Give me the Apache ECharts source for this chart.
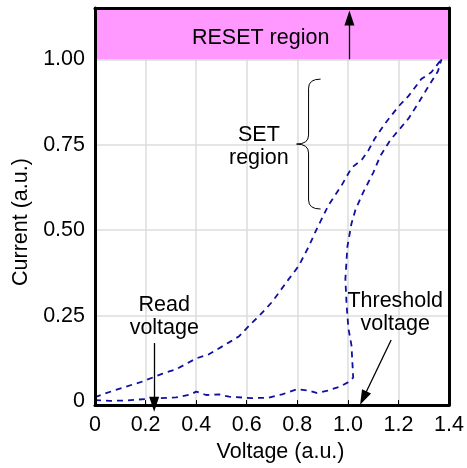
<!DOCTYPE html>
<html><head><meta charset="utf-8">
<script src="https://cdn.jsdelivr.net/npm/echarts@6/dist/echarts.min.js"></script>
<style>html,body{margin:0;padding:0;background:#fff}#c{width:467px;height:468px}</style>
</head><body><div id="c"></div>
<script>
// Upper branch of the I-V loop (SET sweep)
const upperV = [0, 0.07, 0.12, 0.19, 0.265, 0.32, 0.40, 0.45, 0.53, 0.57, 0.615, 0.65, 0.70, 0.766, 0.805, 0.845, 0.877, 0.923, 0.975, 1.015, 1.055, 1.08, 1.107, 1.148, 1.2, 1.24, 1.29, 1.33, 1.37];
const upperI = [0.012, 0.03, 0.042, 0.058, 0.08, 0.093, 0.125, 0.137, 0.172, 0.19, 0.225, 0.25, 0.29, 0.357, 0.395, 0.452, 0.504, 0.573, 0.631, 0.683, 0.706, 0.732, 0.769, 0.813, 0.862, 0.893, 0.942, 0.962, 1.0];
// Lower branch (threshold switching)
const lowerV = [0, 0.06, 0.12, 0.23, 0.32, 0.38, 0.40, 0.44, 0.49, 0.53, 0.62, 0.687, 0.74, 0.80, 0.845, 0.876, 0.92, 0.97, 1.0, 1.021, 1.014, 1.002, 0.995, 0.99, 0.998, 1.014, 1.03, 1.06, 1.10, 1.128, 1.167, 1.207, 1.24, 1.277, 1.317, 1.356, 1.37];
const lowerI = [0.003, 0.001, 0.002, 0.008, 0.011, 0.02, 0.028, 0.018, 0.02, 0.013, 0.009, 0.01, 0.02, 0.035, 0.031, 0.024, 0.031, 0.043, 0.055, 0.069, 0.164, 0.213, 0.28, 0.357, 0.452, 0.519, 0.56, 0.61, 0.668, 0.717, 0.763, 0.798, 0.827, 0.87, 0.919, 0.965, 1.0];

const xTickLabels = ['0', '0.2', '0.4', '0.6', '0.8', '1.0', '1.2', '1.4'];
const yTickValues = [0, 0.25, 0.5, 0.75, 1.0];
const yTickLabels = ['0', '0.25', '0.50', '0.75', '1.00'];
const yGridValues = [0.25, 0.5, 0.75, 1.0];
const resetRange = [1.0, 1.15];

// annotation texts and anchor points (data coords)
const noteTexts = ['RESET region', 'SET\nregion', 'Read\nvoltage', 'Threshold\nvoltage'];
const noteV = [0.655, 0.648, 0.274, 1.187];
const noteI = [1.063, 0.746, 0.248, 0.259];
// arrows: from -> to
const arrowFromV = [1.006, 0.234, 1.171];
const arrowFromI = [1.0, 0.17, 0.179];
const arrowToV = [1.006, 0.234, 1.061];
const arrowToI = [1.121, -0.009, 0.009];
// brace: tip and ends
const braceTip = [0.797, 0.752];
const braceTop = [0.892, 0.942];
const braceBottom = [0.892, 0.562];

const FONT = "'Liberation Sans', Arial, Helvetica, sans-serif";
const FS = 21.5;
const LINE_COLOR = '#1010a0';
const zip = (a, b) => a.map((v, i) => [v, b[i]]);

const chart = echarts.init(document.getElementById('c'), null, {renderer: 'canvas'});
const frameLine = {show: true, onZero: false, lineStyle: {color: '#000', width: 3}};
const hidden = {show: false};

chart.setOption({
  animation: false,
  grid: {left: 95, right: 17, top: 8, bottom: 57, containLabel: false},
  xAxis: [{
    type: 'value', min: 0, max: 1.4, interval: 0.2, position: 'bottom',
    axisLine: frameLine,
    axisTick: {show: true, inside: true, length: 5, lineStyle: {color: '#000', width: 1}},
    axisLabel: {margin: 9, fontSize: FS, color: '#000', fontFamily: FONT, formatter: (v, i) => xTickLabels[i]},
    splitLine: {show: true, lineStyle: {color: '#dcdcdc', width: 1.5}},
    name: 'Voltage (a.u.)', nameLocation: 'middle', nameGap: 30,
    nameTextStyle: {fontSize: FS, color: '#000', fontFamily: FONT, padding: [0, 0, 0, 17]}
  }, {
    type: 'value', min: 0, max: 1.4, position: 'top', z: 6,
    axisLine: frameLine, axisTick: hidden, axisLabel: hidden, splitLine: hidden
  }],
  yAxis: [{
    type: 'value', min: -0.0115, max: resetRange[1], position: 'left',
    axisLine: {show: false},
    axisTick: {show: false, customValues: yGridValues},
    axisLabel: {customValues: yTickValues, margin: 10, fontSize: FS, color: '#000', fontFamily: FONT,
      padding: [4, 0, 0, 0], verticalAlign: 'middle', verticalAlignMinLabel: 'middle', verticalAlignMaxLabel: 'middle',
      formatter: v => yTickLabels[yTickValues.indexOf(v)]},
    splitLine: {show: true, lineStyle: {color: '#dcdcdc', width: 1.5}},
    name: 'Current (a.u.)', nameLocation: 'middle', nameGap: 62,
    nameTextStyle: {fontSize: FS, color: '#000', fontFamily: FONT, padding: [0, 31, 0, 0]}
  }, {
    type: 'value', min: -0.0115, max: resetRange[1], position: 'left', z: 6,
    axisLine: frameLine, axisTick: hidden, axisLabel: hidden, splitLine: hidden
  }, {
    type: 'value', min: -0.0115, max: resetRange[1], position: 'right', z: 6,
    axisLine: frameLine, axisTick: hidden, axisLabel: hidden, splitLine: hidden
  }],
  series: [{
    name: 'notes', type: 'line', data: [], silent: true, z: 1,
    markArea: {
      silent: true,
      itemStyle: {color: '#ff99ff', opacity: 1},
      label: {show: false},
      data: [[{yAxis: resetRange[0]}, {yAxis: resetRange[1]}]]
    },
    markLine: {
      silent: true, symbol: ['none', 'triangle'], symbolSize: [10, 15],
      lineStyle: {color: '#000', width: 1.3, type: 'solid'},
      itemStyle: {color: '#000'},
      label: {show: false},
      data: arrowFromV.map((v, i) => [{coord: [v, arrowFromI[i]]}, {coord: [arrowToV[i], arrowToI[i]]}])
    },
    markPoint: {
      silent: true, symbol: 'circle', symbolSize: 0,
      itemStyle: {color: 'rgba(0,0,0,0)'},
      label: {show: true, position: 'inside', formatter: '{b}', fontSize: FS, lineHeight: 23, color: '#000', fontFamily: FONT, align: 'center'},
      data: noteTexts.map((t, i) => ({name: t, coord: [noteV[i], noteI[i]]}))
    }
  }, {
    name: 'upper', type: 'line', data: zip(upperV, upperI), showSymbol: false, z: 3,
    lineStyle: {color: LINE_COLOR, width: 1.8, type: [6, 5]}
  }, {
    name: 'lower', type: 'line', data: zip(lowerV, lowerI), showSymbol: false, z: 3,
    lineStyle: {color: LINE_COLOR, width: 1.8, type: [6, 5]}
  }]
});

// curly brace next to the SET region label
const toPx = p => chart.convertToPixel({xAxisIndex: 0, yAxisIndex: 0}, p);
const pTip = toPx(braceTip), pTop = toPx(braceTop), pBot = toPx(braceBottom);
const mx = (pTip[0] + pTop[0]) / 2;
const rr = 9;
const braceStyle = {stroke: '#000', fill: null, lineWidth: 1};
const curve = (x1, y1, cx, cy, x2, y2) => ({type: 'bezierCurve', z: 10, silent: true,
  shape: {x1: x1, y1: y1, cpx1: cx, cpy1: cy, x2: x2, y2: y2}, style: braceStyle});
const seg = (x1, y1, x2, y2) => ({type: 'line', z: 10, silent: true,
  shape: {x1: x1, y1: y1, x2: x2, y2: y2}, style: braceStyle});
chart.setOption({
  graphic: [
    curve(pTop[0], pTop[1], mx, pTop[1], mx, pTop[1] + rr),
    seg(mx, pTop[1] + rr, mx, pTip[1] - rr),
    curve(mx, pTip[1] - rr, mx, pTip[1], pTip[0], pTip[1]),
    curve(pTip[0], pTip[1], mx, pTip[1], mx, pTip[1] + rr),
    seg(mx, pTip[1] + rr, mx, pBot[1] - rr),
    curve(mx, pBot[1] - rr, mx, pBot[1], pBot[0], pBot[1])
  ]
});
</script></body></html>
